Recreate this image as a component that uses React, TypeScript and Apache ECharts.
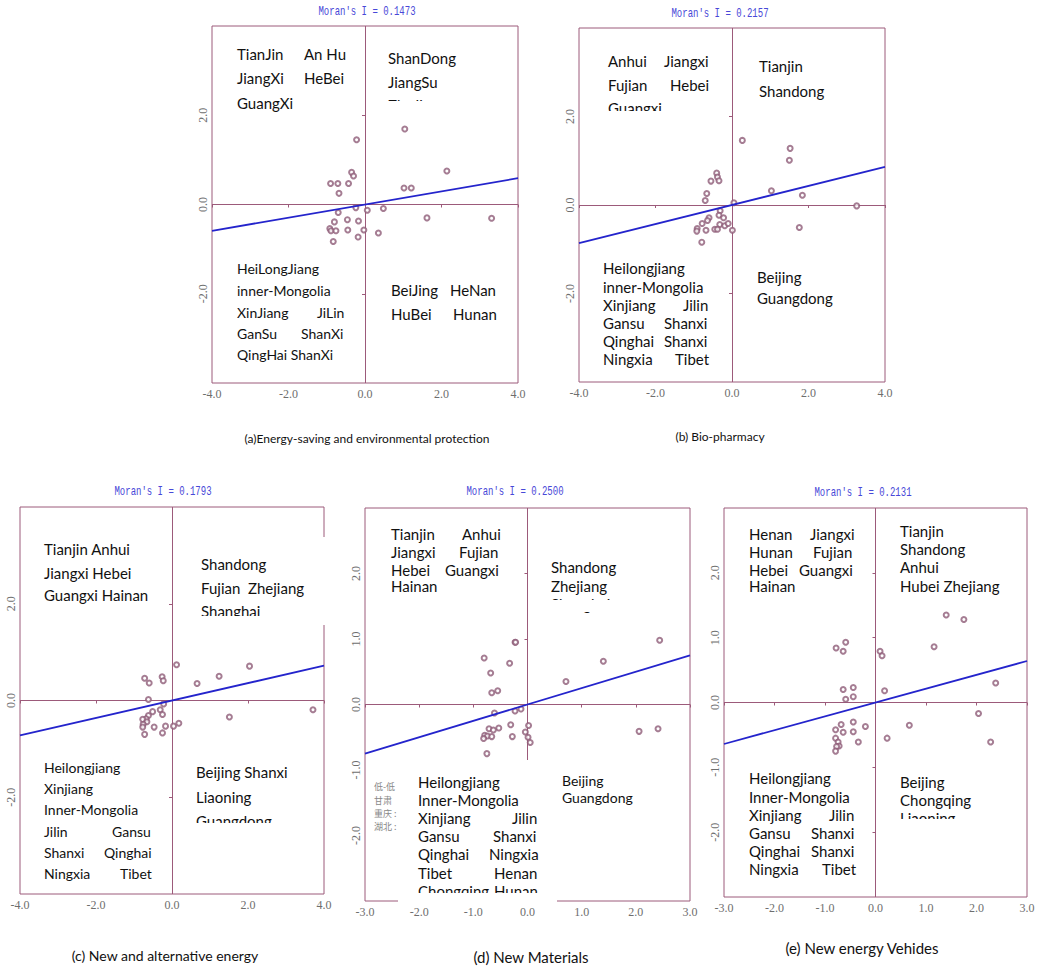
import { useEffect, useRef } from "react";
import * as echarts from "echarts";

// ---------- DATA ----------
const moranValues = [0.1473, 0.2157, 0.1793, 0.25, 0.2131];
const captions = [
  "(a)Energy-saving and environmental protection",
  "(b) Bio-pharmacy",
  "(c) New and alternative energy",
  "(d) New Materials",
  "(e) New energy Vehides",
];
const axisRanges = [4, 4, 4, 3, 3];
const axisIntervals = [2, 2, 2, 1, 1];

const pointsA: number[][] = [
  [-0.22, 1.45], [1.04, 1.69], [2.14, 0.75], [1.02, 0.37], [1.21, 0.37], [-0.9, 0.47], [-0.71, 0.47],
  [-0.43, 0.47], [-0.68, 0.25], [-0.35, 0.72], [-0.3, 0.64], [-0.7, -0.18], [-0.24, -0.07], [0.06, -0.13],
  [0.48, -0.09], [1.62, -0.3], [3.31, -0.31], [-0.8, -0.39], [-0.46, -0.34], [-0.17, -0.37], [-0.92, -0.54],
  [-0.89, -0.59], [-0.76, -0.59], [-0.45, -0.57], [-0.03, -0.57], [0.35, -0.64], [-0.18, -0.73], [-0.83, -0.83],
];
const pointsB: number[][] = [
  [0.27, 1.46], [1.52, 1.28], [1.5, 1.01], [-0.4, 0.72], [-0.38, 0.63], [-0.34, 0.55], [-0.55, 0.54],
  [-0.66, 0.26], [-0.7, 0.1], [1.03, 0.32], [1.84, 0.22], [0.05, 0.05], [3.26, -0.02], [-0.31, -0.13],
  [-0.34, -0.23], [-0.6, -0.29], [-0.22, -0.29], [-0.64, -0.35], [-0.78, -0.42], [-0.32, -0.44], [-0.19, -0.47],
  [-0.1, -0.42], [-0.91, -0.53], [-0.92, -0.59], [-0.68, -0.57], [-0.45, -0.55], [-0.38, -0.55], [0.01, -0.57],
  [1.76, -0.51], [-0.79, -0.84],
];
const pointsC: number[][] = [
  [0.12, 0.74], [2.04, 0.71], [1.24, 0.5], [0.66, 0.35], [-0.72, 0.46], [-0.6, 0.36], [-0.26, 0.49],
  [-0.23, 0.41], [-0.62, 0.02], [-0.22, -0.07], [-0.31, -0.19], [-0.25, -0.29], [-0.51, -0.23], [-0.62, -0.31],
  [-0.68, -0.38], [-0.77, -0.39], [-0.66, -0.44], [-0.76, -0.49], [-0.77, -0.55], [-0.72, -0.7], [-0.47, -0.55],
  [-0.17, -0.53], [-0.25, -0.67], [0.04, -0.53], [0.18, -0.47], [1.51, -0.34], [3.71, -0.19],
];
const pointsD: number[][] = [
  [2.44, 0.98], [1.4, 0.66], [0.71, 0.35], [-0.23, 0.95], [-0.22, 0.95], [-0.8, 0.71], [-0.33, 0.63],
  [-0.68, 0.48], [-0.66, 0.18], [-0.55, 0.21], [-0.61, -0.13], [-0.23, -0.1], [-0.12, -0.07], [-0.31, -0.31],
  [0.02, -0.32], [-0.53, -0.36], [-0.71, -0.37], [-0.63, -0.39], [-0.79, -0.47], [-0.74, -0.48], [-0.66, -0.49],
  [-0.81, -0.52], [-0.28, -0.49], [-0.04, -0.42], [0.01, -0.5], [0.05, -0.58], [-0.75, -0.75], [2.06, -0.41],
  [2.41, -0.37],
];
const pointsE: number[][] = [
  [1.4, 1.35], [1.75, 1.28], [1.16, 0.86], [0.09, 0.79], [0.13, 0.72], [-0.59, 0.93], [-0.78, 0.84],
  [-0.64, 0.79], [2.38, 0.3], [0.18, 0.18], [-0.64, 0.2], [-0.44, 0.23], [-0.44, 0.09], [-0.59, 0.05],
  [2.04, -0.17], [-0.44, -0.3], [-0.2, -0.37], [0.67, -0.35], [-0.68, -0.34], [-0.79, -0.42], [-0.64, -0.46],
  [-0.44, -0.45], [0.23, -0.55], [-0.34, -0.61], [2.28, -0.61], [-0.79, -0.55], [-0.74, -0.61], [-0.72, -0.67],
  [-0.77, -0.68], [-0.79, -0.75],
];
const allPoints = [pointsA, pointsB, pointsC, pointsD, pointsE];

const lineA = [[-4, -0.59], [4, 0.59]];
const lineB = [[-4, -0.86], [4, 0.86]];
const lineC = [[-4, -0.72], [4, 0.72]];
const lineD = [[-3, -0.75], [3, 0.75]];
const lineE = [[-3, -0.64], [3, 0.64]];
const allLines = [lineA, lineB, lineC, lineD, lineE];

// ---------- LAYOUT ----------
const grids = [
  { left: 212, top: 26, width: 306, height: 357 },
  { left: 579, top: 28, width: 306, height: 354 },
  { left: 20, top: 507, width: 304, height: 387 },
  { left: 365, top: 508, width: 325, height: 393 },
  { left: 724, top: 508, width: 303, height: 389 },
];
const titlePos = [[367, 12], [720, 14], [163, 492], [515, 492], [863, 493]];
const captionPos = [[367, 438, 12], [720, 436, 12], [165, 955, 14], [531, 957, 15], [862, 948, 15]];

// [text, x, y, fontSize]
const labels: [string, number, number, number][] = [
  // (a)
  ["TianJin", 237, 54, 15], ["An Hu", 304, 54, 15], ["JiangXi", 237, 78, 15], ["HeBei", 304, 78, 15],
  ["GuangXi", 237, 103, 15],
  ["ShanDong", 388, 58, 15], ["JiangSu", 388, 82, 15], ["ZheJiang", 388, 105, 15],
  ["HeiLongJiang", 237, 268, 14], ["inner-Mongolia", 237, 290, 14], ["XinJiang", 237, 312, 14],
  ["JiLin", 317, 312, 14], ["GanSu", 237, 333, 14], ["ShanXi", 301, 333, 14], ["QingHai ShanXi", 237, 354, 14],
  ["BeiJing", 391, 290, 15], ["HeNan", 450, 290, 15], ["HuBei", 391, 314, 15], ["Hunan", 453, 314, 15],
  // (b)
  ["Anhui", 608, 61, 15], ["Jiangxi", 664, 61, 15], ["Fujian", 608, 85, 15], ["Hebei", 670, 85, 15],
  ["Guangxi", 608, 108, 15],
  ["Tianjin", 759, 66, 15], ["Shandong", 759, 91, 15],
  ["Heilongjiang", 603, 268, 15], ["inner-Mongolia", 603, 287, 15], ["Xinjiang", 603, 305, 15],
  ["Jilin", 683, 305, 15], ["Gansu", 603, 323, 15], ["Shanxi", 664, 323, 15], ["Qinghai", 603, 341, 15],
  ["Shanxi", 664, 341, 15], ["Ningxia", 603, 359, 15], ["Tibet", 675, 359, 15],
  ["Beijing", 757, 277, 15], ["Guangdong", 757, 298, 15],
  // (c)
  ["Tianjin Anhui", 44, 549, 15], ["Jiangxi Hebei", 44, 573, 15], ["Guangxi Hainan", 44, 595, 15],
  ["Shandong", 201, 564, 15], ["Fujian  Zhejiang", 201, 588, 15], ["Shanghai", 201, 611, 15],
  ["Heilongjiang", 44, 767, 14], ["Xinjiang", 44, 788, 14], ["Inner-Mongolia", 44, 809, 14],
  ["Jilin", 44, 831, 14], ["Gansu", 112, 831, 14], ["Shanxi", 44, 852, 14], ["Qinghai", 104, 852, 14],
  ["Ningxia", 44, 873, 14], ["Tibet", 120, 873, 14],
  ["Beijing Shanxi", 196, 772, 15], ["Liaoning", 196, 797, 15], ["Guangdong", 196, 821, 15],
  // (d)
  ["Tianjin", 391, 534, 15], ["Anhui", 462, 534, 15], ["Jiangxi", 391, 552, 15], ["Fujian", 459, 552, 15],
  ["Hebei", 391, 570, 15], ["Guangxi", 445, 570, 15], ["Hainan", 391, 586, 15],
  ["Shandong", 551, 567, 15], ["Zhejiang", 551, 586, 15], ["Shanghai", 551, 604, 15],
  ["Heilongjiang", 418, 782, 15], ["Inner-Mongolia", 418, 800, 15], ["Xinjiang", 418, 818, 15],
  ["Jilin", 512, 818, 15], ["Gansu", 418, 836, 15], ["Shanxi", 493, 836, 15], ["Qinghai", 418, 854, 15],
  ["Ningxia", 489, 854, 15], ["Tibet", 418, 873, 15], ["Henan", 494, 873, 15], ["Chongqing", 418, 891, 15],
  ["Hunan", 494, 891, 15],
  ["Beijing", 562, 780, 14], ["Guangdong", 562, 797, 14],
  // (e)
  ["Henan", 749, 534, 15], ["Jiangxi", 810, 534, 15], ["Hunan", 749, 552, 15], ["Fujian", 813, 552, 15],
  ["Hebei", 749, 570, 15], ["Guangxi", 799, 570, 15], ["Hainan", 749, 586, 15],
  ["Tianjin", 900, 531, 15], ["Shandong", 900, 549, 15], ["Anhui", 900, 567, 15], ["Hubei Zhejiang", 900, 586, 15],
  ["Heilongjiang", 749, 778, 15], ["Inner-Mongolia", 749, 797, 15], ["Xinjiang", 749, 815, 15],
  ["Jilin", 829, 815, 15], ["Gansu", 749, 833, 15], ["Shanxi", 811, 833, 15], ["Qinghai", 749, 851, 15],
  ["Shanxi", 811, 851, 15], ["Ningxia", 749, 869, 15], ["Tibet", 822, 869, 15],
  ["Beijing", 900, 782, 15], ["Chongqing", 900, 800, 15], ["Liaoning", 900, 818, 15],
];
const legendRemnant: [string, number, number][] = [
  ["低-低", 374, 786], ["甘肃", 374, 800], ["重庆 :", 374, 813], ["湖北 :", 374, 826],
];
// white boxes [x, y, w, h, z]
const boxes: [number, number, number, number, number][] = [
  [384, 101, 84, 14, 110],
  [604, 111, 70, 14, 110],
  [192, 537, 136, 88, 90],
  [192, 616, 136, 9, 110],
  [192, 823, 100, 12, 110],
  [546, 600, 80, 12, 110],
  [398, 760, 159, 143, 90],
  [398, 893, 159, 12, 110],
  [895, 819, 100, 12, 110],
];

const FRAME = "#9c5a7a";
const POINT = "#8f5c78";
const BLUE = "#2424cc";
const TICK = "#6e6e6e";

export default function App() {
  const ref = useRef<HTMLDivElement>(null);
  useEffect(() => {
    document.body.style.margin = "0";
    const chart = echarts.init(ref.current!, null, { renderer: "svg" });
    const xAxis: any[] = [];
    const yAxis: any[] = [];
    const series: any[] = [];
    grids.forEach((g, i) => {
      const r = axisRanges[i];
      const common = {
        gridIndex: i,
        type: "value",
        min: -r,
        max: r,
        interval: axisIntervals[i],
        axisLine: { show: false },
        splitLine: { show: false },
        axisTick: { show: true, length: 3, lineStyle: { color: FRAME } },
      };
      xAxis.push({
        ...common,
        axisLabel: {
          margin: 5,
          color: TICK,
          fontFamily: "Liberation Serif",
          fontSize: 12,
          formatter: (v: number) => v.toFixed(1),
        },
      });
      yAxis.push({
        ...common,
        axisLabel: {
          margin: 3,
          rotate: 90,
          color: TICK,
          fontFamily: "Liberation Serif",
          fontSize: 12,
          showMinLabel: false,
          showMaxLabel: false,
          formatter: (v: number) => (Math.abs(v) >= r - 1e-9 ? "" : v.toFixed(1)),
        },
      });
      series.push({
        type: "scatter",
        xAxisIndex: i,
        yAxisIndex: i,
        data: allPoints[i],
        symbol: "emptyCircle",
        symbolSize: 5,
        itemStyle: { color: POINT, borderColor: POINT, borderWidth: 1 },
        z: 5,
        markLine: {
          silent: true,
          symbol: "none",
          label: { show: false },
          lineStyle: { color: FRAME, type: "solid", width: 1 },
          data: [{ xAxis: 0 }, { yAxis: 0 }],
        },
      });
      series.push({
        type: "line",
        xAxisIndex: i,
        yAxisIndex: i,
        data: allLines[i],
        symbol: "none",
        lineStyle: { color: BLUE, width: 1.8 },
        z: 6,
      });
    });

    const graphic: any[] = [];
    boxes.forEach(([x, y, w, h, z]) =>
      graphic.push({ type: "rect", shape: { x, y, width: w, height: h }, style: { fill: "#ffffff" }, z, silent: true })
    );
    labels.forEach(([t, x, y, fs]) =>
      graphic.push({
        type: "text",
        x,
        y,
        z: 100,
        style: { text: t, fill: "#111", fontSize: fs, fontFamily: "Lato", verticalAlign: "middle", align: "left" },
      })
    );
    legendRemnant.forEach(([t, x, y]) =>
      graphic.push({
        type: "text",
        x,
        y,
        z: 100,
        style: { text: t, fill: "#888", fontSize: 9, fontFamily: "Noto Sans CJK SC", verticalAlign: "middle" },
      })
    );
    titlePos.forEach(([x, y], i) =>
      graphic.push({
        type: "text",
        x,
        y,
        scaleX: 0.75,
        z: 100,
        style: {
          text: "Moran's I = " + moranValues[i].toFixed(4),
          fill: "#4848d8",
          fontSize: 12,
          fontFamily: "Liberation Mono",
          align: "center",
          verticalAlign: "middle",
        },
      })
    );
    captionPos.forEach(([x, y, fs], i) =>
      graphic.push({
        type: "text",
        x,
        y,
        z: 100,
        style: { text: captions[i], fill: "#111", fontSize: fs, fontFamily: "Lato", align: "center", verticalAlign: "middle" },
      })
    );

    chart.setOption({
      animation: false,
      backgroundColor: "#ffffff",
      grid: grids.map((g) => ({ ...g, show: true, borderColor: FRAME, borderWidth: 1, backgroundColor: "transparent" })),
      xAxis,
      yAxis,
      series,
      graphic,
    });
    return () => chart.dispose();
  }, []);
  return <div ref={ref} style={{ position: "absolute", left: 0, top: 0, width: 1049, height: 967 }} />;
}
